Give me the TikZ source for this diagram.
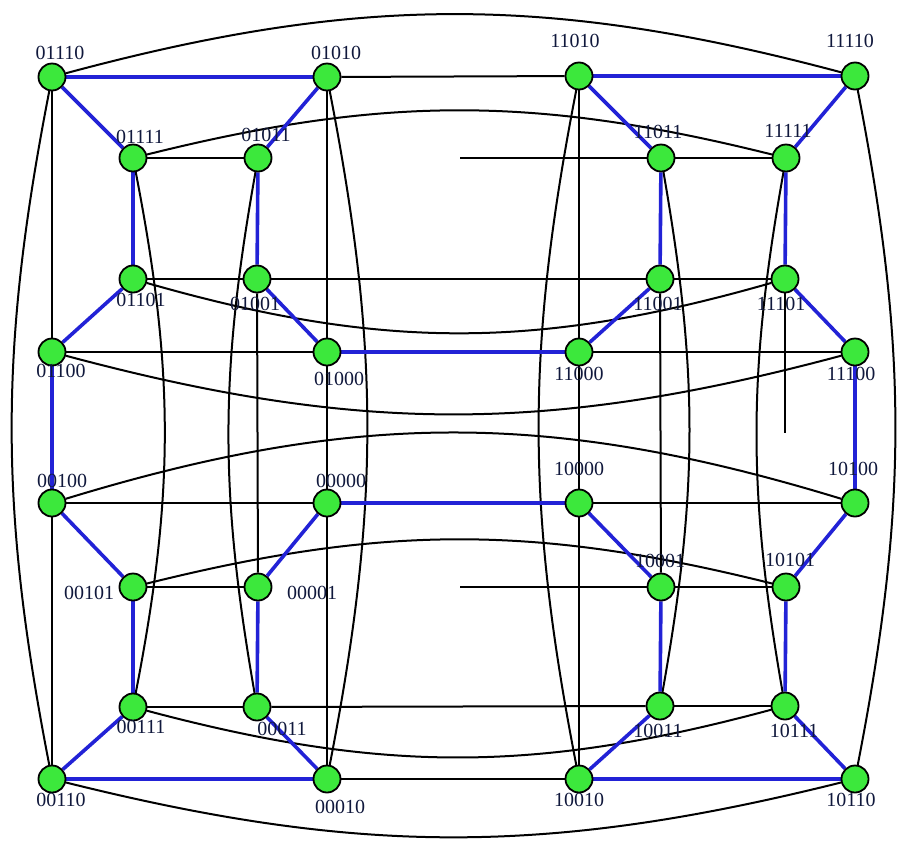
\documentclass[tikz,border=0pt]{standalone}
\usepackage{fontspec}
\setmainfont{Liberation Serif}
\usepackage{xcolor}
\usetikzlibrary{positioning, backgrounds}

\definecolor{nodegreen}{HTML}{3CE83C}
\definecolor{cycblue}{HTML}{2222D6}
\definecolor{lbltext}{HTML}{10183C}

\tikzset{
    vertex/.style={draw, circle, fill=nodegreen, line width=1.8pt, minimum size=27pt, inner sep=0pt},
    lbl/.style={inner sep=0pt, text=lbltext, font=\fontsize{20}{20}\selectfont},
    edge/.style={line width=2pt},
    cyc/.style={draw=cycblue, line width=3.6pt}
}

\begin{document}
\begin{tikzpicture}[x=1pt, y=-1pt]
        \useasboundingbox (0,0) rectangle (897,844);

        % Define the nodes (cube 01)
        \node[vertex] (n01110) at (52,77) {};
        \node[vertex] (n01010) at (327,77) {};
        \node[vertex] (n01111) at (133,158) {};
        \node[vertex] (n01011) at (258,158) {};
        \node[vertex] (n01101) at (133,279) {};
        \node[vertex] (n01001) at (257,279) {};
        \node[vertex] (n01100) at (52,352) {};
        \node[vertex] (n01000) at (327,352) {};

        % cube 11
        \node[vertex] (n11010) at (579,76) {};
        \node[vertex] (n11110) at (855,76) {};
        \node[vertex] (n11011) at (661,158) {};
        \node[vertex] (n11111) at (786,158) {};
        \node[vertex] (n11001) at (660,279) {};
        \node[vertex] (n11101) at (785,279) {};
        \node[vertex] (n11000) at (579,352) {};
        \node[vertex] (n11100) at (855,352) {};

        % cube 00
        \node[vertex] (n00100) at (52,503) {};
        \node[vertex] (n00000) at (327,503) {};
        \node[vertex] (n00101) at (133,587) {};
        \node[vertex] (n00001) at (258,587) {};
        \node[vertex] (n00111) at (133,707) {};
        \node[vertex] (n00011) at (257,707) {};
        \node[vertex] (n00110) at (52,779) {};
        \node[vertex] (n00010) at (327,779) {};

        % cube 10
        \node[vertex] (n10000) at (579,503) {};
        \node[vertex] (n10100) at (855,503) {};
        \node[vertex] (n10001) at (661,587) {};
        \node[vertex] (n10101) at (786,587) {};
        \node[vertex] (n10011) at (660,706) {};
        \node[vertex] (n10111) at (785,706) {};
        \node[vertex] (n10010) at (579,779) {};
        \node[vertex] (n10110) at (855,779) {};

        % loose ends of the cut edges
        \coordinate (c01011) at (460,158);
        \coordinate (c00001) at (460,587);
        \coordinate (c11101) at (785,433);

        % Define the labels
        \node[lbl] (l01110) at (60,53) {01110};
        \node[lbl] (l01010) at (336,53) {01010};
        \node[lbl] (l01111) at (140,137) {01111};
        \node[lbl] (l01011) at (266,135) {01011};
        \node[lbl] (l01101) at (141,300) {01101};
        \node[lbl] (l01001) at (255,304) {01001};
        \node[lbl] (l01100) at (61,371) {01100};
        \node[lbl] (l01000) at (339,379) {01000};

        \node[lbl] (l11010) at (575,41) {11010};
        \node[lbl] (l11110) at (850,41) {11110};
        \node[lbl] (l11011) at (658,132) {11011};
        \node[lbl] (l11111) at (788,131) {11111};
        \node[lbl] (l11001) at (658,304) {11001};
        \node[lbl] (l11101) at (781,304) {11101};
        \node[lbl] (l11000) at (579,374) {11000};
        \node[lbl] (l11100) at (851,374) {11100};

        \node[lbl] (l00100) at (62,481) {00100};
        \node[lbl] (l00000) at (341,481) {00000};
        \node[lbl] (l00101) at (89,593) {00101};
        \node[lbl] (l00001) at (312,593) {00001};
        \node[lbl] (l00111) at (141,727) {00111};
        \node[lbl] (l00011) at (282,729) {00011};
        \node[lbl] (l00110) at (61,800) {00110};
        \node[lbl] (l00010) at (340,807) {00010};

        \node[lbl] (l10000) at (579,469) {10000};
        \node[lbl] (l10100) at (853,469) {10100};
        \node[lbl] (l10001) at (660,561) {10001};
        \node[lbl] (l10101) at (790,560) {10101};
        \node[lbl] (l10011) at (658,731) {10011};
        \node[lbl] (l10111) at (794,731) {10111};
        \node[lbl] (l10010) at (579,800) {10010};
        \node[lbl] (l10110) at (851,800) {10110};

        \begin{scope}[on background layer]
        % Define the edges inside the cubes
        \draw[edge] (n01111) -- (n01011);
        \draw[edge] (n01101) -- (n01001);
        \draw[edge] (n01100) -- (n01000);
        \draw[edge] (n01110) -- (n01100);
        \draw[edge] (n01010) -- (n01000);

        \draw[edge] (n11011) -- (n11111);
        \draw[edge] (n11001) -- (n11101);
        \draw[edge] (n11000) -- (n11100);
        \draw[edge] (n11010) -- (n11000);

        \draw[edge] (n00100) -- (n00000);
        \draw[edge] (n00101) -- (n00001);
        \draw[edge] (n00111) -- (n00011);
        \draw[edge] (n00100) -- (n00110);
        \draw[edge] (n00000) -- (n00010);

        \draw[edge] (n10000) -- (n10100);
        \draw[edge] (n10001) -- (n10101);
        \draw[edge] (n10011) -- (n10111);
        \draw[edge] (n10000) -- (n10010);

        % edges between left and right
        \draw[edge] (n01010) -- (n11010);
        \draw[edge] (c01011) -- (n11011);
        \draw[edge] (n01001) -- (n11001);
        \draw[edge] (c00001) -- (n10001);
        \draw[edge] (n00011) -- (n10011);
        \draw[edge] (n00010) -- (n10010);
        \draw[edge] (n01110) to[bend left=15] (n11110);
        \draw[edge] (n01111) to[bend left=14] (n11111);
        \draw[edge] (n01101) to[bend right=16] (n11101);
        \draw[edge] (n01100) to[bend right=15] (n11100);
        \draw[edge] (n00100) to[bend left=17] (n10100);
        \draw[edge] (n00101) to[bend left=14] (n10101);
        \draw[edge] (n00111) to[bend right=15] (n10111);
        \draw[edge] (n00110) to[bend right=14] (n10110);

        % edges between top and bottom
        \draw[edge] (n01000) -- (n00000);
        \draw[edge] (n01001) -- (n00001);
        \draw[edge] (n11000) -- (n10000);
        \draw[edge] (n11001) -- (n10001);
        \draw[edge] (n11101) -- (c11101);
        \draw[edge] (n01110) to[bend right=11] (n00110);
        \draw[edge] (n01010) to[bend left=11] (n00010);
        \draw[edge] (n11010) to[bend right=11] (n10010);
        \draw[edge] (n11110) to[bend left=11] (n10110);
        \draw[edge] (n01111) to[bend left=11] (n00111);
        \draw[edge] (n01011) to[bend right=10] (n00011);
        \draw[edge] (n11011) to[bend left=10] (n10011);
        \draw[edge] (n11111) to[bend right=10] (n10111);

        % the blue cycle
        \draw[cyc] (n01100) -- (n01101);
        \draw[cyc] (n01101) -- (n01111);
        \draw[cyc] (n01111) -- (n01110);
        \draw[cyc] (n01110) -- (n01010);
        \draw[cyc] (n01010) -- (n01011);
        \draw[cyc] (n01011) -- (n01001);
        \draw[cyc] (n01001) -- (n01000);
        \draw[cyc] (n01000) -- (n11000);
        \draw[cyc] (n11000) -- (n11001);
        \draw[cyc] (n11001) -- (n11011);
        \draw[cyc] (n11011) -- (n11010);
        \draw[cyc] (n11010) -- (n11110);
        \draw[cyc] (n11110) -- (n11111);
        \draw[cyc] (n11111) -- (n11101);
        \draw[cyc] (n11101) -- (n11100);
        \draw[cyc] (n11100) -- (n10100);
        \draw[cyc] (n10100) -- (n10101);
        \draw[cyc] (n10101) -- (n10111);
        \draw[cyc] (n10111) -- (n10110);
        \draw[cyc] (n10110) -- (n10010);
        \draw[cyc] (n10010) -- (n10011);
        \draw[cyc] (n10011) -- (n10001);
        \draw[cyc] (n10001) -- (n10000);
        \draw[cyc] (n10000) -- (n00000);
        \draw[cyc] (n00000) -- (n00001);
        \draw[cyc] (n00001) -- (n00011);
        \draw[cyc] (n00011) -- (n00010);
        \draw[cyc] (n00010) -- (n00110);
        \draw[cyc] (n00110) -- (n00111);
        \draw[cyc] (n00111) -- (n00101);
        \draw[cyc] (n00101) -- (n00100);
        \draw[cyc] (n00100) -- (n01100);
        \end{scope}
    \end{tikzpicture}
\end{document}
